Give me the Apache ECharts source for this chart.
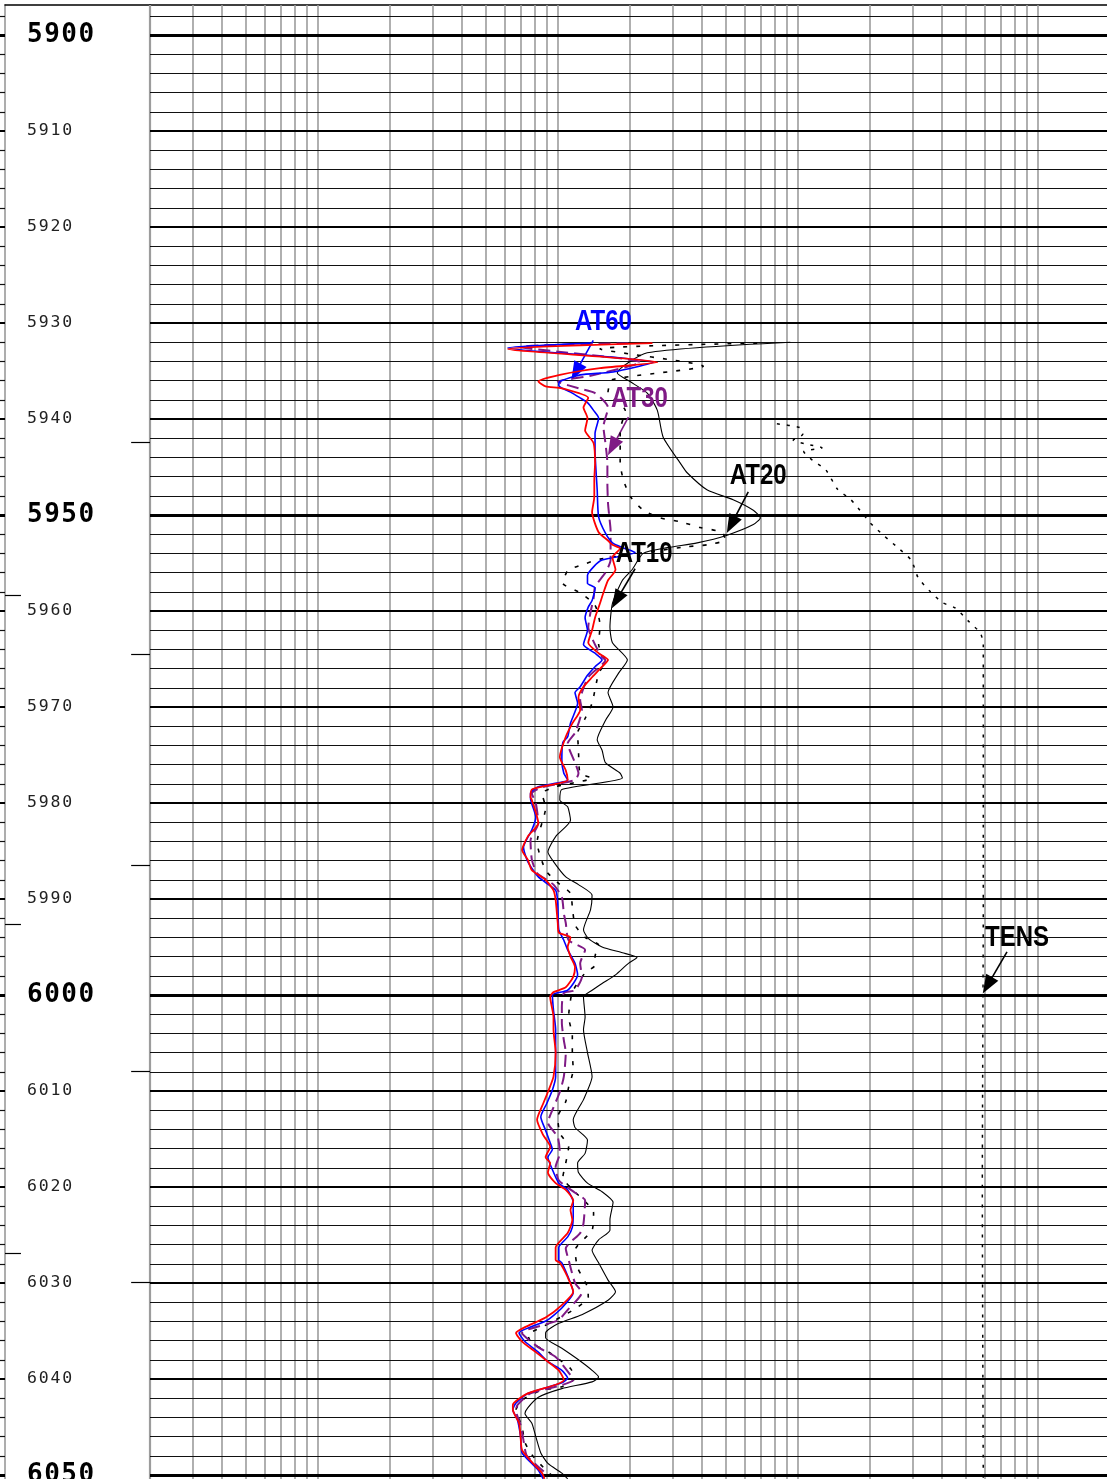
<!DOCTYPE html>
<html>
<head>
<meta charset="utf-8">
<script src="https://cdn.jsdelivr.net/npm/echarts@6/dist/echarts.min.js"></script>
<style>
  html, body { margin: 0; padding: 0; background: #fff; }
  #log { width: 1107px; height: 1479px; }
</style>
</head>
<body>
<div id="log"></div>
<script>
// ---- Depth interval shown (ft) ----
const depthTop = 5896.875;
const depthBottom = 6050.417;
const depthLabels = [5900, 5910, 5920, 5930, 5940, 5950, 5960, 5970, 5980, 5990,
                     6000, 6010, 6020, 6030, 6040, 6050];

// ---- Resistivity track grid (log, 0.2 - 2000 ohm.m) ----
const resMin = 0.2;
const resMax = 2000;
const resDecades = [0.2, 2, 20, 200];
const resMantissas = [1, 1.5, 2, 2.5, 3, 3.5, 4, 4.5, 5];

// ---- Tension scale ----
const tensMin = 0;
const tensMax = 10000;

// ---- Depth-track marks (ft) ----
const rightTrackMarks = [5942.4, 5964.5, 5986.5, 6007.9, 6029.9];
const leftTrackMarks = [5958.4, 5992.6, 6026.9];

// ---- Curves: [depth ft, value] ----
const at10 = [
  [5932.0, 93.1], [5933.1, 23.6], [5935.2, 17.7], [5936.1, 20.0], [5937.3, 23.6], [5939.1, 26.0],
  [5941.9, 27.5], [5944.6, 32.4], [5945.6, 34.6], [5947.4, 42.0], [5948.4, 53.8], [5949.5, 65.3],
  [5950.3, 69.8], [5951.0, 65.3], [5952.1, 50.8], [5952.9, 38.1], [5953.4, 28.6], [5954.0, 22.7],
  [5955.7, 20.4], [5956.8, 18.6], [5959.2, 16.9], [5961.7, 16.5], [5963.3, 16.9], [5965.1, 19.5],
  [5966.5, 17.9], [5968.5, 16.2], [5970.0, 17.0], [5971.4, 15.8], [5973.4, 14.6], [5974.5, 15.3],
  [5975.8, 15.8], [5976.9, 18.2], [5977.4, 18.6], [5978.6, 10.4], [5979.7, 10.2], [5980.4, 11.0],
  [5981.8, 11.3], [5983.5, 9.8], [5985.1, 9.1], [5986.1, 9.6], [5987.7, 10.8], [5988.5, 12.2],
  [5989.6, 13.9], [5991.1, 13.7], [5993.2, 12.8], [5994.1, 13.4], [5995.0, 15.3], [5995.6, 18.6],
  [5996.1, 21.4], [5996.7, 19.7], [5997.9, 17.4], [5998.8, 15.3], [5999.5, 13.9], [6000.2, 12.8],
  [6002.3, 13.0], [6003.6, 12.8], [6006.0, 13.3], [6008.5, 13.9], [6010.9, 12.8], [6013.0, 11.6],
  [6013.8, 11.8], [6015.1, 13.3], [6016.5, 13.0], [6017.5, 12.1], [6018.5, 12.2], [6019.6, 13.3],
  [6020.5, 15.3], [6021.6, 17.0], [6023.4, 16.5], [6024.5, 16.5], [6025.5, 14.8], [6026.6, 13.9],
  [6027.9, 14.8], [6029.7, 16.2], [6030.9, 17.4], [6031.8, 16.2], [6033.3, 12.6], [6034.2, 10.1],
  [6035.2, 8.9], [6035.7, 8.9], [6036.8, 10.4], [6038.0, 12.2], [6039.1, 13.9], [6039.8, 14.8],
  [6040.3, 13.9], [6041.0, 10.4], [6041.9, 8.3], [6043.0, 7.5], [6043.6, 7.3], [6044.6, 7.8],
  [6046.0, 8.1], [6047.7, 8.5], [6048.8, 9.1], [6049.8, 10.4], [6050.4, 11.0]
];

const at20 = [
  [5932.1, 67.8], [5932.7, 15.0], [5934.5, 40.4], [5935.9, 16.9], [5937.2, 16.2], [5939.1, 19.1],
  [5941.2, 18.2], [5944.6, 18.2], [5946.4, 18.8], [5948.1, 20.1], [5949.5, 22.7], [5950.3, 26.7],
  [5950.7, 32.4], [5951.3, 39.2], [5951.8, 48.4], [5952.6, 49.9], [5953.1, 42.0], [5953.3, 34.6],
  [5954.6, 15.0], [5955.2, 12.6], [5955.8, 11.0], [5957.1, 10.5], [5958.1, 12.4], [5959.4, 14.3],
  [5961.5, 15.0], [5963.5, 14.8], [5965.3, 15.8], [5966.5, 14.8], [5969.6, 13.9], [5971.2, 13.0],
  [5972.7, 12.1], [5974.5, 12.2], [5976.9, 12.4], [5977.4, 13.9], [5978.3, 9.8], [5979.0, 8.6],
  [5980.5, 8.9], [5984.1, 8.2], [5987.0, 8.9], [5988.3, 10.0], [5989.4, 11.3], [5990.8, 11.5],
  [5992.7, 11.8], [5994.0, 13.0], [5994.8, 14.8], [5996.0, 14.3], [5996.9, 14.3], [5997.7, 13.0],
  [5999.7, 11.5], [6002.3, 11.1], [6004.2, 11.5], [6006.0, 11.5], [6007.8, 11.6], [6009.6, 11.1],
  [6011.1, 10.8], [6012.7, 10.0], [6014.4, 10.2], [6015.8, 11.1], [6017.5, 10.8], [6019.0, 10.5],
  [6020.5, 11.8], [6022.7, 14.1], [6024.5, 13.9], [6026.6, 11.8], [6028.4, 12.1], [6030.4, 13.3],
  [6031.5, 13.4], [6032.8, 11.6], [6034.6, 8.6], [6035.4, 7.5], [6036.3, 7.8], [6037.0, 8.9],
  [6037.7, 9.8], [6038.9, 11.3], [6039.9, 11.8], [6040.8, 10.4], [6041.2, 8.5], [6042.0, 7.3],
  [6043.2, 6.7], [6045.0, 7.1], [6046.6, 7.3], [6047.9, 7.8], [6049.2, 8.7], [6050.2, 9.6]
];

const at30 = [
  [5932.1, 19.7], [5932.5, 7.0], [5934.1, 22.1], [5935.5, 13.7], [5936.1, 10.0], [5936.8, 12.2],
  [5937.3, 14.3], [5938.8, 16.2], [5940.8, 15.5], [5942.5, 15.8], [5944.6, 16.1], [5946.7, 16.1],
  [5948.8, 16.2], [5950.2, 16.4], [5951.6, 16.6], [5952.9, 16.6], [5954.7, 16.6], [5956.0, 15.8],
  [5957.5, 14.3], [5958.7, 14.1], [5960.1, 13.7], [5961.7, 13.4], [5963.5, 14.3], [5964.8, 15.3],
  [5965.1, 15.8], [5966.9, 13.4], [5969.3, 12.4], [5970.3, 12.6], [5972.7, 11.8], [5973.8, 11.0],
  [5975.8, 11.8], [5976.9, 12.2], [5977.6, 11.8], [5978.4, 8.5], [5979.0, 7.8], [5980.0, 8.1],
  [5982.1, 8.3], [5983.9, 7.7], [5985.9, 7.8], [5987.3, 8.2], [5988.5, 9.6], [5989.8, 10.4],
  [5991.5, 10.6], [5992.5, 10.8], [5994.3, 11.1], [5995.3, 13.0], [5996.7, 12.4], [5998.1, 12.6],
  [5999.5, 11.8], [5999.8, 10.6], [6001.3, 10.4], [6002.9, 10.4], [6004.7, 10.6], [6006.0, 10.8],
  [6008.5, 10.6], [6010.1, 10.2], [6011.7, 9.6], [6013.3, 9.1], [6014.8, 10.0], [6016.5, 10.2],
  [6017.9, 9.8], [6019.3, 10.1], [6020.6, 11.8], [6021.4, 13.0], [6023.8, 12.8], [6024.8, 12.4],
  [6026.4, 10.8], [6027.6, 11.1], [6030.0, 11.8], [6031.0, 12.6], [6032.8, 11.0], [6033.9, 10.0],
  [6035.2, 7.1], [6036.7, 8.3], [6037.7, 9.8], [6039.6, 11.3], [6040.1, 11.6], [6040.7, 10.2],
  [6041.5, 7.7], [6042.7, 6.8], [6043.3, 6.7], [6044.8, 7.0], [6046.4, 7.2], [6047.9, 7.4],
  [6048.9, 8.1], [6049.8, 8.9]
];

const at60 = [
  [5932.1, 13.7], [5932.6, 6.2], [5934.1, 25.0], [5935.1, 17.0], [5935.4, 12.4], [5936.1, 10.2],
  [5936.5, 10.1], [5937.2, 11.3], [5937.8, 12.4], [5938.3, 13.3], [5939.1, 14.1], [5939.9, 14.8],
  [5941.5, 14.3], [5943.2, 14.3], [5947.4, 14.6], [5950.2, 14.8], [5951.9, 15.8], [5952.9, 16.9],
  [5953.4, 18.6], [5953.9, 21.0], [5954.7, 15.3], [5955.4, 14.1], [5956.3, 13.3], [5957.1, 13.3],
  [5957.6, 14.3], [5958.9, 13.9], [5959.6, 13.4], [5960.7, 13.0], [5962.0, 13.3], [5963.5, 12.8],
  [5964.4, 14.3], [5965.1, 15.3], [5965.8, 14.3], [5966.7, 13.3], [5967.9, 12.4], [5968.5, 11.8],
  [5969.6, 12.1], [5970.5, 11.8], [5971.7, 11.3], [5973.1, 11.0], [5973.7, 10.5], [5975.5, 10.4],
  [5976.9, 10.6], [5977.6, 11.0], [5978.3, 8.3], [5979.0, 7.7], [5979.5, 7.7], [5981.5, 8.1],
  [5982.8, 7.8], [5984.6, 7.2], [5986.1, 7.5], [5987.7, 8.3], [5989.1, 9.8], [5990.4, 10.0],
  [5993.2, 10.1], [5994.3, 10.6], [5995.3, 11.0], [5996.7, 11.8], [5997.9, 12.1], [5999.5, 11.0],
  [6000.0, 9.5], [6001.6, 9.6], [6003.6, 9.8], [6006.0, 9.8], [6008.5, 9.8], [6009.9, 9.5],
  [6011.3, 9.0], [6012.7, 8.5], [6014.1, 8.9], [6015.4, 9.3], [6016.1, 9.5], [6016.9, 9.1],
  [6018.2, 9.5], [6019.6, 10.1], [6020.3, 11.0], [6021.6, 11.6], [6022.7, 11.6], [6024.2, 11.5],
  [6025.2, 11.0], [6026.3, 10.1], [6027.6, 10.1], [6027.9, 10.4], [6030.0, 11.3], [6031.0, 11.6],
  [6032.6, 10.4], [6033.9, 9.0], [6035.2, 6.9], [6036.1, 7.3], [6037.2, 8.3], [6038.2, 9.1],
  [6039.1, 10.4], [6039.9, 11.0], [6040.4, 10.4], [6041.5, 7.5], [6042.5, 6.7], [6043.2, 6.5],
  [6044.3, 6.8], [6046.0, 7.0], [6047.7, 7.1], [6048.8, 7.8], [6049.5, 8.3], [6050.4, 8.7]
];

const at90 = [
  [5932.1, 24.8], [5932.7, 6.2], [5934.1, 26.0], [5934.7, 15.0], [5935.4, 10.2], [5936.1, 8.3],
  [5936.6, 8.9], [5936.8, 10.4], [5937.8, 13.4], [5938.8, 12.8], [5939.9, 13.3], [5941.2, 13.0],
  [5942.5, 14.1], [5944.6, 14.3], [5946.4, 14.2], [5948.1, 14.2], [5949.7, 13.9], [5951.8, 14.8],
  [5952.6, 16.1], [5953.1, 16.9], [5953.5, 18.2], [5954.4, 16.9], [5955.7, 17.4], [5956.8, 16.2],
  [5958.1, 15.5], [5959.2, 15.0], [5960.7, 14.3], [5962.0, 13.9], [5963.3, 13.4], [5964.4, 14.8],
  [5965.1, 16.2], [5965.8, 15.3], [5966.9, 13.9], [5967.9, 12.8], [5969.0, 12.2], [5970.3, 12.4],
  [5971.7, 11.5], [5973.1, 10.8], [5975.2, 10.2], [5976.6, 10.8], [5977.6, 11.0], [5978.3, 8.6],
  [5978.6, 7.8], [5979.4, 7.7], [5979.7, 7.8], [5982.1, 8.3], [5983.5, 7.5], [5984.9, 7.1],
  [5985.9, 7.5], [5987.0, 7.8], [5988.0, 8.9], [5989.1, 9.6], [5990.1, 9.8], [5992.5, 10.0],
  [5993.5, 10.1], [5994.0, 11.3], [5995.0, 11.0], [5996.0, 11.3], [5997.1, 11.8], [5998.1, 11.6],
  [5999.2, 10.8], [5999.7, 9.6], [6000.2, 9.3], [6002.3, 9.6], [6003.6, 9.6], [6006.0, 9.8],
  [6008.5, 9.6], [6010.1, 9.1], [6011.3, 8.7], [6013.0, 8.2], [6014.6, 8.7], [6015.8, 9.3],
  [6016.9, 8.9], [6017.5, 9.3], [6018.5, 9.1], [6019.6, 9.8], [6020.3, 10.8], [6021.4, 11.6],
  [6022.4, 11.3], [6023.4, 11.5], [6024.8, 11.0], [6026.3, 9.8], [6027.6, 9.8], [6027.9, 10.2],
  [6029.4, 11.0], [6030.9, 11.6], [6032.3, 10.4], [6033.6, 8.9], [6034.6, 7.3], [6035.2, 6.7],
  [6036.1, 7.1], [6037.2, 8.1], [6038.2, 9.1], [6039.1, 10.1], [6040.1, 10.6], [6040.6, 9.8],
  [6041.5, 7.5], [6042.7, 6.5], [6043.2, 6.5], [6044.6, 6.9], [6046.0, 7.0], [6047.4, 7.1],
  [6048.8, 7.9], [6049.8, 8.6], [6050.4, 8.8]
];

const tens = [
  [5940.5, 6530], [5940.9, 6770], [5941.6, 6800], [5942.2, 6700], [5942.6, 6830], [5943.0, 7000],
  [5943.4, 6810], [5944.3, 6900], [5945.3, 7040], [5947.3, 7160], [5948.4, 7300], [5949.8, 7420],
  [5950.8, 7500], [5952.2, 7650], [5953.4, 7790], [5954.7, 7930], [5956.5, 8000], [5957.9, 8120],
  [5959.1, 8250], [5959.7, 8390], [5961.0, 8520], [5962.3, 8650], [5963.5, 8680], [5990.0, 8680],
  [6020.0, 8670], [6050.4, 8680]
];

// ---- Curve tags: label anchor and pointer (value, depth) ----
const curveTags = {
  AT60: { label: [15.5, 5929.9], from: [14.06, 5931.8], to: [11.9, 5935.1] },
  AT30: { label: [21.9, 5937.9], from: [19.7, 5939.8], to: [16.9, 5942.9] },
  AT20: { label: [68.4, 5945.9], from: [62.2, 5947.6], to: [52.8, 5951.0] },
  AT10: { label: [22.9, 5954.0], from: [21.0, 5955.6], to: [17.6, 5958.85] },
  TENS: { label: [9031, 5994.0], from: [8927, 5995.5], to: [8724, 5999.0] }
};

// ---------------------------------------------------------------
const tagFont = 'bold 30px "Liberation Sans", Arial, sans-serif';

// vertical log-grid values
const resGridValues = [];
resDecades.forEach(d => resMantissas.forEach(m => resGridValues.push(+(d * m).toPrecision(6))));
resGridValues.push(resMax);

// horizontal depth grid, every 2 ft
const depthGridValues = [];
for (let d = 5898; d <= 6050; d += 2) depthGridValues.push(d);

function depthLineStyle(d) {
  if (d % 50 === 0) return { color: '#000', width: 3, type: 'solid' };
  if (d % 10 === 0) return { color: '#000', width: 2, type: 'solid' };
  return { color: '#111', width: 1.2, type: 'solid' };
}

const gridMarkLines = [];
resGridValues.forEach(v => gridMarkLines.push({
  xAxis: v, lineStyle: { color: '#9c9c9c', width: v === resMin ? 2.2 : 1.6, type: 'solid' }
}));
depthGridValues.forEach(d => gridMarkLines.push({ yAxis: d, lineStyle: depthLineStyle(d) }));

const tagColors = {};

function curve(name, pairs, xAxisIndex, lineStyle, tagColor) {
  const s = {
    name, type: 'line', xAxisIndex, yAxisIndex: 0,
    data: pairs.map(p => [p[1], p[0]]),
    showSymbol: false, symbol: 'none', smooth: 0.2,
    lineStyle, z: 5, silent: true, animation: false
  };
  const tag = curveTags[name];
  if (tag) {
    tagColors[name] = { color: tagColor, xAxisIndex };
    s.markLine = {
      silent: true, animation: false,
      symbol: ['none', 'triangle'], symbolSize: [14, 19],
      lineStyle: { color: tagColor, width: 1.6, type: 'solid' },
      label: { show: false },
      data: [[{ coord: tag.from }, { coord: tag.to }]]
    };
  }
  return s;
}

function depthLabelText(v) {
  const st = v % 50 === 0 ? 'big' : 'small';
  return String(v).split('').map(c => '{' + st + '|' + c + '}').join('');
}

const chart = echarts.init(document.getElementById('log'), null, { renderer: 'canvas' });

const gridBase = { top: 5, height: 1474, containLabel: false, outerBoundsMode: 'none' };

chart.setOption({
  animation: false,
  backgroundColor: '#fff',
  grid: [
    Object.assign({ left: 150, width: 960 }, gridBase),   // resistivity track
    Object.assign({ left: 5, width: 145 }, gridBase),     // depth track
    Object.assign({ left: 0, width: 5 }, gridBase)        // edge of neighbouring track
  ],
  xAxis: [
    { type: 'log', logBase: 10, min: resMin, max: resMax, gridIndex: 0, position: 'top',
      axisLine: { show: true, lineStyle: { color: '#000', width: 1.5 } },
      axisTick: { show: false }, axisLabel: { show: false }, splitLine: { show: false },
      minorTick: { show: false }, minorSplitLine: { show: false } },
    { type: 'value', min: tensMin, max: tensMax, gridIndex: 0, show: false },
    { type: 'value', min: 0, max: 1, gridIndex: 1, position: 'top',
      axisLine: { show: true, lineStyle: { color: '#000', width: 1.5 } },
      axisTick: { show: false }, axisLabel: { show: false }, splitLine: { show: false } },
    { type: 'value', min: 0, max: 1, gridIndex: 2, show: false }
  ],
  yAxis: [
    { type: 'value', inverse: true, min: depthTop, max: depthBottom, gridIndex: 0, show: false },
    { type: 'value', inverse: true, min: depthTop, max: depthBottom, gridIndex: 1, position: 'left',
      axisLine: { show: true, lineStyle: { color: '#999', width: 1.6 } },
      axisTick: { show: false }, splitLine: { show: false },
      axisLabel: {
        show: true, inside: true, margin: 22, customValues: depthLabels,
        showMinLabel: true, showMaxLabel: true, hideOverlap: false,
        formatter: depthLabelText,
        rich: {
          big: { fontFamily: '"DejaVu Sans Mono", monospace', fontWeight: 'bold', fontSize: 26,
                 color: '#000', padding: [0, 1.5, 0, 0] },
          small: { fontFamily: '"DejaVu Sans Mono", monospace', fontSize: 16.5,
                   color: '#222', padding: [0, 1.8, 0, 0] }
        }
      } },
    { type: 'value', inverse: true, min: depthTop, max: depthBottom, gridIndex: 2, show: false }
  ],
  series: [
    { // track grid
      name: 'grid', type: 'line', xAxisIndex: 0, yAxisIndex: 0, data: [], z: 1, silent: true,
      markLine: { silent: true, animation: false, symbol: ['none', 'none'], label: { show: false },
                  data: gridMarkLines }
    },
    { // depth-track marks
      name: 'marks', type: 'line', xAxisIndex: 2, yAxisIndex: 1, data: [], z: 1, silent: true,
      markLine: {
        silent: true, animation: false, symbol: ['none', 'none'], label: { show: false },
        lineStyle: { color: '#000', width: 1.2, type: 'solid' },
        data: rightTrackMarks.map(d => [{ coord: [0.87, d] }, { coord: [1, d] }])
          .concat(leftTrackMarks.map(d => [{ coord: [0, d] }, { coord: [0.11, d] }]))
      }
    },
    { // neighbouring track edge
      name: 'edge', type: 'line', xAxisIndex: 3, yAxisIndex: 2, data: [], z: 1, silent: true,
      markLine: { silent: true, animation: false, symbol: ['none', 'none'], label: { show: false },
                  data: depthGridValues.map(d => ({ yAxis: d, lineStyle: depthLineStyle(d) })) }
    },
    curve('TENS', tens, 1, { color: '#000', width: 1.5, type: [3, 7] }, '#000'),
    curve('AT10', at10, 0, { color: '#000', width: 1.1, type: 'solid' }, '#000'),
    curve('AT20', at20, 0, { color: '#000', width: 1.6, type: [4, 9] }, '#000'),
    curve('AT30', at30, 0, { color: '#7f1a85', width: 2, type: [12, 6] }, '#7f1a85'),
    curve('AT60', at60, 0, { color: '#0000ff', width: 1.6, type: 'solid' }, '#0000ff'),
    curve('AT90', at90, 0, { color: '#ff0000', width: 1.8, type: 'solid' }, '#ff0000')
  ]
});

// Curve name tags, placed through the track's own scales and drawn condensed
const tagGraphics = Object.keys(curveTags).map(name => {
  const info = tagColors[name];
  const p = chart.convertToPixel({ xAxisIndex: info.xAxisIndex, yAxisIndex: 0 }, curveTags[name].label);
  return {
    type: 'text', x: p[0], y: p[1], scaleX: 0.8, z: 20, silent: true,
    style: { text: name, fill: info.color, font: tagFont,
             align: 'center', verticalAlign: 'middle',
             textAlign: 'center', textVerticalAlign: 'middle' }
  };
});
chart.setOption({ graphic: tagGraphics });
</script>
</body>
</html>
